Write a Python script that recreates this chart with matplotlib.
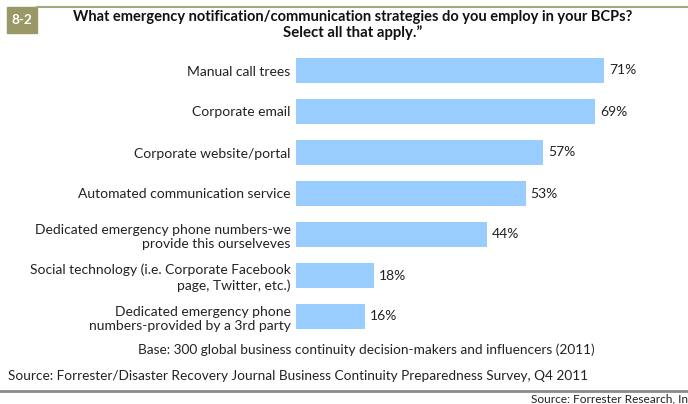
import matplotlib.pyplot as plt
from matplotlib.patches import Rectangle
from matplotlib.lines import Line2D

plt.rcParams["font.family"] = ["Lato", "DejaVu Sans"]

categories = [
    "Manual call trees",
    "Corporate email",
    "Corporate website/portal",
    "Automated communication service",
    "Dedicated emergency phone numbers-we\nprovide this ourselveves",
    "Social technology (i.e. Corporate Facebook\npage, Twitter, etc.)",
    "Dedicated emergency phone\nnumbers-provided by a 3rd party",
]
values = [71, 69, 57, 53, 44, 18, 16]

W, H = 688, 404
fig = plt.figure(figsize=(W / 100, H / 100), dpi=100)
txt = "#222222"

# bar area: 100% spans ~434 px, rows are 41 px apart
ax = fig.add_axes([296 / W, 1 - 337 / H, 433.8 / W, 287 / H])
pos = list(range(len(categories)))
ax.barh(pos, values, height=0.61, color="#99ccff")
ax.set_xlim(0, 100)
ax.set_ylim(len(categories) - 0.5, -0.5)
ax.set_yticks(pos)
ax.set_yticklabels(categories, fontsize=10, color=txt, linespacing=1.3)
ax.tick_params(axis="y", length=0, pad=3.8)
ax.set_xticks([])
for s in ax.spines.values():
    s.set_visible(False)
for p, v in zip(pos, values):
    ax.text(v + 1.1, p, f"{v}%", va="center", ha="left", fontsize=10, color=txt)

# header: figure number box and rule
fig.patches.append(Rectangle((7 / W, 1 - 33 / H), 30 / W, 26 / H,
                             transform=fig.transFigure, color="#9a9866"))
fig.text(22 / W, 1 - 20 / H, "8-2", color="white", fontsize=9.8, weight="bold",
         ha="center", va="center")
fig.lines.append(Line2D([37 / W, 1], [1 - 6.5 / H, 1 - 6.5 / H], transform=fig.transFigure,
                        color="#a8a67c", lw=1.5))
fig.text(353 / W, 1 - 17 / H,
         "What emergency notification/communication strategies do you employ in your BCPs?",
         fontsize=10.5, weight="bold", ha="center", va="center", color="#111111")
fig.text(353 / W, 1 - 33 / H, "Select all that apply.\u201d",
         fontsize=10.8, weight="bold", ha="center", va="center", color="#111111")

# footnotes
fig.text(366 / W, 1 - 350 / H,
         "Base: 300 global business continuity decision-makers and influencers (2011)",
         fontsize=9.85, ha="center", va="center", color=txt)
fig.text(8 / W, 1 - 376 / H,
         "Source: Forrester/Disaster Recovery Journal Business Continuity Preparedness Survey, Q4 2011",
         fontsize=9.85, ha="left", va="center", color=txt)
fig.lines.append(Line2D([0, 1], [1 - 391 / H, 1 - 391 / H], transform=fig.transFigure,
                        color="#8a8a8a", lw=2))
fig.text(1.0, 1 - 398.5 / H, "Source: Forrester Research, In",
         fontsize=8.6, ha="right", va="center", color=txt)

fig.savefig("out.png", dpi=100)
